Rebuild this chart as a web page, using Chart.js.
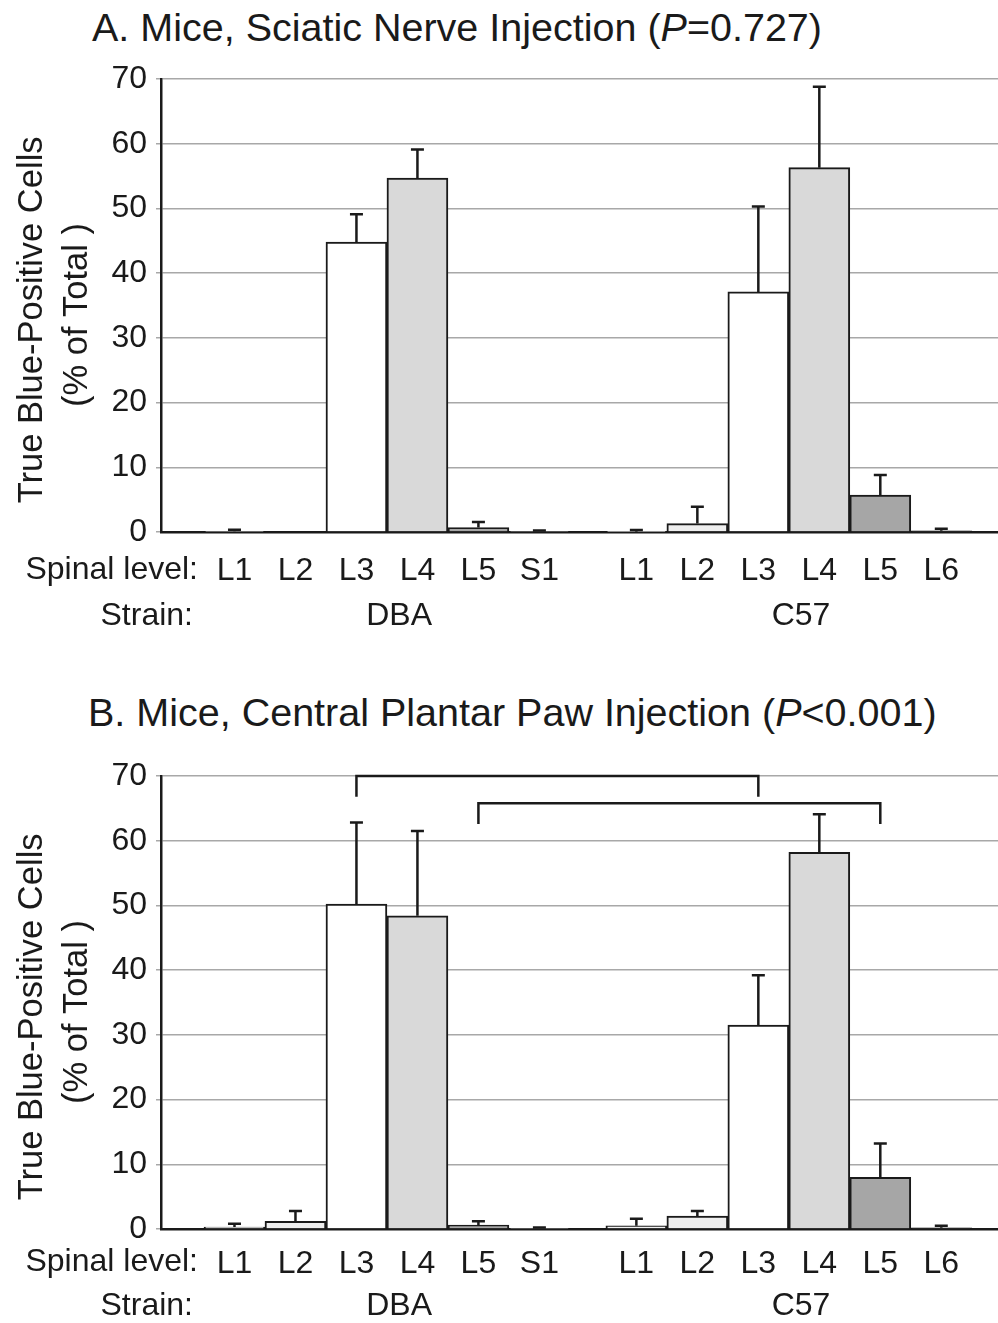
<!DOCTYPE html>
<html lang="en">
<head>
  <meta charset="UTF-8">
  <title>True Blue-Positive Cells by Spinal Level</title>
  <script src="https://cdn.jsdelivr.net/npm/chart.js@4"></script>
  <style>
    body {
      margin: 0;
      background: #fff;
      font-family: "Liberation Sans", Arial, sans-serif;
      color: #1a1a1a;
    }
    .page {
      position: relative;
      width: 998px;
      height: 1323px;
      overflow: hidden;
    }
    .panel-title {
      position: absolute;
      font-size: 39.5px;
      line-height: 1;
      white-space: nowrap;
    }
    .chart-box {
      position: absolute;
      left: 0;
      width: 998px;
    }
  </style>
</head>
<body>
  <div class="page">
    <div class="panel-title" style="left:92px; top:8px;">A. Mice, Sciatic Nerve Injection (<i>P</i>=0.727)</div>
    <div class="chart-box" style="top:50px; height:600px;"><canvas id="sciaticChart"></canvas></div>

    <div class="panel-title" style="left:88px; top:693px;">B. Mice, Central Plantar Paw Injection (<i>P</i>&lt;0.001)</div>
    <div class="chart-box" style="top:740px; height:583px;"><canvas id="plantarChart"></canvas></div>
  </div>

  <script>
    // Spinal levels per strain
    const dbaLevels = ['L1', 'L2', 'L3', 'L4', 'L5', 'S1'];
    const c57Levels = ['L1', 'L2', 'L3', 'L4', 'L5', 'L6'];
    const strains = ['DBA', 'C57'];

    // A. Sciatic nerve injection: mean % of total, and upper error
    const sciaticDba = [0.1, 0, 44.8, 54.7, 0.7, 0.05];
    const sciaticDbaErr = [0.25, 0, 4.3, 4.4, 0.85, 0.2];
    const sciaticC57 = [0.05, 1.3, 37.1, 56.3, 5.7, 0.2];
    const sciaticC57Err = [0.25, 2.6, 13.2, 12.5, 3.1, 0.3];

    // B. Central plantar paw injection
    const plantarDba = [0.3, 1.2, 50.2, 48.4, 0.6, 0.05];
    const plantarDbaErr = [0.5, 1.6, 12.6, 13.1, 0.6, 0.2];
    const plantarC57 = [0.5, 2.0, 31.5, 58.2, 8.0, 0.2];
    const plantarC57Err = [1.1, 0.8, 7.7, 5.9, 5.2, 0.3];

    // significance brackets for B: bar index from / to (0-11), top and leg end (%)
    const plantarBrackets = [
      { from: 2, to: 8, top: 70, end: 66.8 },
      { from: 4, to: 10, top: 65.8, end: 62.6 }
    ];

    // fill by spinal level
    const levelColors = {
      L1: '#f2f2f2', L2: '#eeeeee', L3: '#ffffff', L4: '#d9d9d9',
      L5: '#a6a6a6', S1: '#808080', L6: '#808080'
    };

    const INK = '#1a1a1a';
    const GROUP_GAP = 0.59; // space between strains, in bar widths

    Chart.defaults.font.family = "'Liberation Sans', Arial, sans-serif";
    Chart.defaults.color = INK;

    const labels = dbaLevels.concat(c57Levels);
    const positions = dbaLevels.map((_, i) => i)
      .concat(c57Levels.map((_, i) => dbaLevels.length + GROUP_GAP + i));
    const groupCenters = [
      (positions[0] + positions[dbaLevels.length - 1]) / 2,
      (positions[dbaLevels.length] + positions[positions.length - 1]) / 2
    ];

    const errorBars = {
      id: 'errorBars',
      afterDatasetsDraw(chart, args, opts) {
        const ctx = chart.ctx;
        const yScale = chart.scales.y;
        const ds = chart.data.datasets[0];
        const meta = chart.getDatasetMeta(0);
        ctx.save();
        ctx.strokeStyle = opts.color;
        ctx.lineWidth = opts.width;
        meta.data.forEach((bar, i) => {
          const err = ds.errors[i];
          if (!err) return;
          const top = yScale.getPixelForValue(ds.data[i].y + err);
          ctx.beginPath();
          ctx.moveTo(bar.x, bar.y);
          ctx.lineTo(bar.x, top);
          ctx.moveTo(bar.x - opts.cap / 2, top);
          ctx.lineTo(bar.x + opts.cap / 2, top);
          ctx.stroke();
        });
        ctx.restore();
      }
    };

    const brackets = {
      id: 'brackets',
      afterDatasetsDraw(chart, args, opts) {
        if (!opts.items || !opts.items.length) return;
        const { ctx, scales: { x, y } } = chart;
        ctx.save();
        ctx.strokeStyle = INK;
        ctx.lineWidth = 2.5;
        opts.items.forEach(b => {
          const x1 = x.getPixelForValue(positions[b.from]);
          const x2 = x.getPixelForValue(positions[b.to]);
          const yt = y.getPixelForValue(b.top);
          const ye = y.getPixelForValue(b.end);
          ctx.beginPath();
          ctx.moveTo(x1, ye);
          ctx.lineTo(x1, yt);
          ctx.lineTo(x2, yt);
          ctx.lineTo(x2, ye);
          ctx.stroke();
        });
        ctx.restore();
      }
    };

    // "Spinal level:" / "Strain:" row headers and strain names under the axis
    const rowLabels = {
      id: 'rowLabels',
      afterDraw(chart, args, opts) {
        const { ctx, chartArea, scales: { x } } = chart;
        const levelY = chartArea.bottom + opts.levelOffset;
        const strainY = chartArea.bottom + opts.strainOffset;
        ctx.save();
        ctx.fillStyle = INK;
        ctx.font = "32px 'Liberation Sans', Arial, sans-serif";
        ctx.textBaseline = 'middle';
        ctx.textAlign = 'right';
        ctx.fillText('Spinal level:', 198, levelY);
        ctx.fillText('Strain:', 193, strainY);
        ctx.textAlign = 'center';
        strains.forEach((name, i) => {
          ctx.fillText(name, x.getPixelForValue(groupCenters[i] + 0.2), strainY);
        });
        ctx.restore();
      }
    };

    function drawPanel(canvasId, dba, dbaErr, c57, c57Err, layout) {
      const values = dba.concat(c57);
      const errors = dbaErr.concat(c57Err);
      return new Chart(document.getElementById(canvasId), {
        type: 'bar',
        data: {
          datasets: [{
            data: positions.map((p, i) => ({ x: p, y: values[i] })),
            errors: errors,
            backgroundColor: labels.map(l => levelColors[l]),
            borderColor: INK,
            borderWidth: 2,
            barPercentage: 1,
            categoryPercentage: 1
          }]
        },
        plugins: [errorBars, brackets, rowLabels],
        options: {
          responsive: true,
          maintainAspectRatio: false,
          animation: false,
          events: [],
          layout: { padding: { top: layout.padTop, left: 0, right: 0, bottom: 0 } },
          scales: {
            x: {
              type: 'linear',
              offset: false,
              min: -1.205,
              max: positions[positions.length - 1] + 0.93,
              grid: { display: false },
              border: { display: true, color: INK, width: 2.5 },
              afterBuildTicks: s => { s.ticks = positions.map(v => ({ value: v })); },
              afterFit: s => { s.height = layout.xAxisHeight; },
              ticks: {
                autoSkip: false,
                maxRotation: 0,
                padding: layout.labelPadding,
                font: { size: 32 },
                callback: (v, i) => labels[i]
              }
            },
            y: {
              min: 0,
              max: 70,
              ticks: { stepSize: 10, padding: 9, font: { size: 32 } },
              grid: { color: '#a8a8a8', lineWidth: 1.5, tickLength: 5 },
              border: { color: INK, width: 2.5 },
              title: {
                display: true,
                // trailing spaces keep the rotated lines a little below centre
                text: ['True Blue-Positive Cells   ', '(% of Total )  '],
                font: { size: 34.5, lineHeight: 1.3 },
                padding: { top: 10, bottom: 0 }
              },
              afterFit: s => { s.width = 161; }
            }
          },
          plugins: {
            legend: { display: false },
            tooltip: { enabled: false },
            errorBars: { color: INK, width: 2.5, cap: 13 },
            brackets: { items: layout.brackets || [] },
            rowLabels: { levelOffset: layout.levelOffset, strainOffset: layout.strainOffset }
          }
        }
      });
    }

    drawPanel('sciaticChart', sciaticDba, sciaticDbaErr, sciaticC57, sciaticC57Err, {
      padTop: 29, xAxisHeight: 118, labelPadding: 12, levelOffset: 38, strainOffset: 84
    });

    drawPanel('plantarChart', plantarDba, plantarDbaErr, plantarC57, plantarC57Err, {
      padTop: 36, xAxisHeight: 94, labelPadding: 8, levelOffset: 33, strainOffset: 77,
      brackets: plantarBrackets
    });
  </script>
</body>
</html>
